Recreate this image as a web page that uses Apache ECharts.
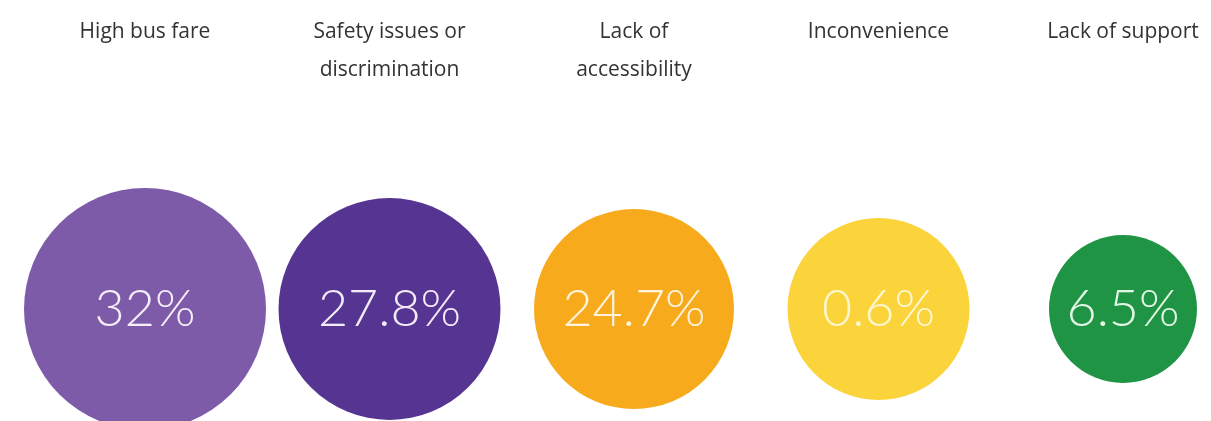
<!DOCTYPE html>
<html>
<head>
<meta charset="utf-8">
<script src="https://cdn.jsdelivr.net/npm/echarts@6/dist/echarts.min.js"></script>
<style>
  html, body { margin: 0; padding: 0; background: #ffffff; }
  #chart { width: 1211px; height: 421px; }
</style>
</head>
<body>
<div id="chart"></div>
<script>
// Reasons given for not using the bus (share of respondents)
const categories = ['High bus fare', 'Safety issues or\ndiscrimination', 'Lack of\naccessibility', 'Inconvenience', 'Lack of support'];
const values = [32, 27.8, 24.7, 0.6, 6.5];

// Bubble styling, largest to smallest by rank
const bubbleSizes = [242, 222, 200, 182, 148];
const bubbleColors = ['#7d5ba8', '#563492', '#f6aa1c', '#fbd33b', '#1f9444'];
const labelColors = ['#f6eefa', '#f3ebf8', '#fff3dc', '#fff7cf', '#e3f7e6'];

const chart = echarts.init(document.getElementById('chart'), null, { renderer: 'canvas' });

chart.setOption({
  backgroundColor: '#ffffff',
  animation: false,
  grid: { left: 145, right: 88, top: 197, bottom: 0 },
  xAxis: {
    type: 'category',
    position: 'top',
    data: categories,
    boundaryGap: false,
    axisLine: { show: false },
    axisTick: { show: false },
    splitLine: { show: false },
    axisLabel: {
      interval: 0,
      margin: 184,
      verticalAlign: 'top',
      lineHeight: 38,
      fontFamily: 'Open Sans',
      fontSize: 21,
      color: '#333333'
    }
  },
  yAxis: {
    type: 'category',
    data: ['share'],
    show: false
  },
  series: [{
    type: 'scatter',
    symbol: 'circle',
    data: categories.map((c, i) => ({
      value: [c, 'share', values[i]],
      symbolSize: bubbleSizes[i],
      itemStyle: { color: bubbleColors[i], opacity: 1 },
      label: { color: labelColors[i] }
    })),
    label: {
      show: true,
      position: 'inside',
      formatter: p => p.value[2] + '%',
      fontFamily: 'Lato',
      fontWeight: 300,
      fontSize: 52
    },
    emphasis: { disabled: true }
  }]
});
</script>
</body>
</html>
